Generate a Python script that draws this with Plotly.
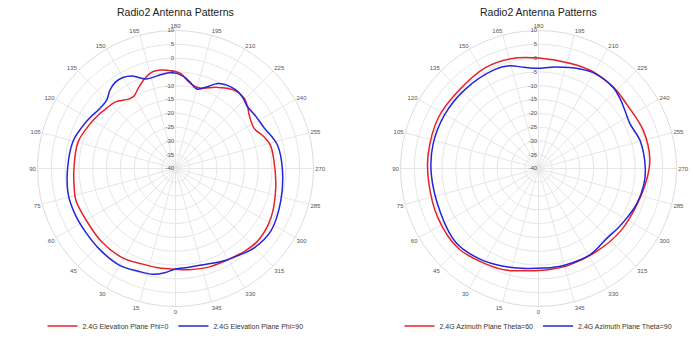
import plotly.graph_objects as go

# ---------------- data (angle in degrees, gain in dBi) ----------------
elev_phi0_theta = [0, 10, 20, 30, 45, 60, 72, 80, 90, 105, 117, 125, 131, 138, 146, 150, 155,
                   161, 166, 172, 177, 183, 188, 193, 198, 207, 216, 224, 230, 234, 243, 250,
                   256, 266, 281, 297, 310, 319, 331, 341, 352, 360]
elev_phi0_gain = [-3.5, -3.5, -3.3, -2.4, -2.3, -2.6, -2.1, -2.7, -3.2, -3.4, -5.0, -6.0, -6.8,
                  -7.5, -9.7, -9.8, -8.0, -5.6, -4.1, -4.0, -4.5, -5.5, -8.0, -9.4, -9.4, -7.0,
                  -4.7, -4.4, -5.8, -7.0, -8.0, -6.0, -4.6, -4.2, -3.0, -1.1, -0.3, -0.8, -2.0,
                  -2.3, -3.0, -3.5]

elev_phi90_theta = [0, 6, 12, 20, 30, 43, 55, 65, 76, 90, 105, 113, 121, 128, 135, 140, 145,
                    150, 155, 162, 170, 178, 185, 190, 195, 200, 207, 217, 223, 229, 237, 245,
                    257, 270, 287, 303, 315, 323, 331, 339, 346, 353, 360]
elev_phi90_gain = [-3.6, -2.0, -0.8, -0.4, 0.5, 0.2, -0.1, 0.0, 0.0, -0.9, -1.6, -2.8, -4.0,
                   -5.0, -4.8, -3.0, -1.9, -1.9, -3.0, -5.9, -5.7, -5.2, -6.5, -8.5, -10.2,
                   -8.8, -5.4, -4.1, -4.5, -5.6, -5.3, -4.7, -2.1, -1.3, -0.1, 1.3, 0.5, -0.9,
                   -2.0, -3.2, -3.9, -3.9, -3.6]

azim_th60_theta = [0, 8, 18, 29, 45, 64, 83, 97, 117, 134, 152, 166, 180, 197, 208, 216, 225,
                   234, 250, 265, 275, 290, 307, 325, 342, 352, 360]
azim_th60_gain = [-3.0, -2.6, -1.3, -0.5, 1.0, 0.6, 0.1, 0.3, 0.7, 0.4, 1.3, 1.0, 0.0, -0.2,
                  0.2, 0.1, 0.0, -0.5, 0.4, 0.5, -0.5, -2.0, -2.6, -3.3, -3.3, -3.2, -3.0]

azim_th90_theta = [0, 10, 23, 34, 48, 65, 87, 103, 120, 137, 156, 164, 172, 180, 187, 194,
                   202, 210, 223, 230, 235, 244, 255, 270, 279, 290, 299, 307, 315, 329, 345,
                   352, 360]
azim_th90_gain = [-3.9, -3.3, -2.0, -0.8, 0.2, -1.0, -1.1, -0.8, -0.8, -0.9, -0.8, -1.3, -3.0,
                  -3.7, -3.0, -2.2, -1.0, 0.0, -0.1, -1.2, -2.1, -3.1, -1.8, -1.3, -1.4, -2.2,
                  -3.3, -4.0, -4.6, -3.6, -3.7, -3.8, -3.9]

angle_ticks = list(range(0, 360, 15))
radial_ticks = list(range(-40, 11, 5))
title_text = "Radio2 Antenna Patterns"

RED = "#e8202a"
BLUE = "#2424d8"
FONT = "Liberation Sans, Arial, sans-serif"

fig = go.Figure()

def add(theta, r, name, color, subplot, legend):
    fig.add_trace(go.Scatterpolar(
        theta=theta, r=r, name=name, mode="lines",
        line=dict(color=color, width=1.5, shape="spline", smoothing=1.0),
        subplot=subplot, legend=legend, hoverinfo="skip"))

add(elev_phi0_theta, elev_phi0_gain, "2.4G Elevation Plane Phi=0", RED, "polar", "legend")
add(elev_phi90_theta, elev_phi90_gain, "2.4G Elevation Plane Phi=90", BLUE, "polar", "legend")
add(azim_th60_theta, azim_th60_gain, "2.4G Azimuth Plane Theta=60", RED, "polar2", "legend2")
add(azim_th90_theta, azim_th90_gain, "2.4G Azimuth Plane Theta=90", BLUE, "polar2", "legend2")

W, H = 693, 344
R = 138
centers = [(175.5, 168.5), (538.5, 168.5)]

def polar_layout(cx, cy):
    return dict(
        domain=dict(x=[(cx - R) / W, (cx + R) / W], y=[(H - cy - R) / H, (H - cy + R) / H]),
        bgcolor="white",
        angularaxis=dict(
            rotation=270, direction="clockwise",
            tickmode="array", tickvals=angle_ticks, ticktext=[str(a) for a in angle_ticks],
            ticks="", showline=True, linecolor="#dcdcdc", linewidth=1,
            gridcolor="#e6e6e6", gridwidth=1,
            tickfont=dict(size=6, color="#555555", family=FONT)),
        radialaxis=dict(
            range=[-40, 10], tickmode="array", tickvals=radial_ticks,
            ticktext=[str(v) for v in radial_ticks],
            angle=90, tickangle=90, side="counterclockwise",
            showline=False, ticks="", gridcolor="#e6e6e6", gridwidth=1,
            tickfont=dict(size=6, color="#555555", family=FONT)),
    )

legend_common = dict(orientation="h", yanchor="middle", xanchor="center",
                     font=dict(size=7, color="#333333", family=FONT),
                     itemwidth=30, bgcolor="rgba(0,0,0,0)", tracegroupgap=0)

fig.update_layout(
    width=W, height=H, margin=dict(l=0, r=0, t=0, b=0),
    paper_bgcolor="white", plot_bgcolor="white",
    font=dict(family=FONT),
    polar=polar_layout(*centers[0]),
    polar2=polar_layout(*centers[1]),
    showlegend=True,
    legend=dict(x=centers[0][0] / W, y=(H - 326) / H, **legend_common),
    legend2=dict(x=centers[1][0] / W, y=(H - 326) / H, **legend_common),
    annotations=[
        dict(text=title_text, x=cx / W, y=(H - 12) / H, xref="paper", yref="paper",
             showarrow=False, xanchor="center", yanchor="middle",
             font=dict(size=10.5, color="#222222", family=FONT))
        for cx, cy in centers
    ],
)

fig.write_html("out.html")
